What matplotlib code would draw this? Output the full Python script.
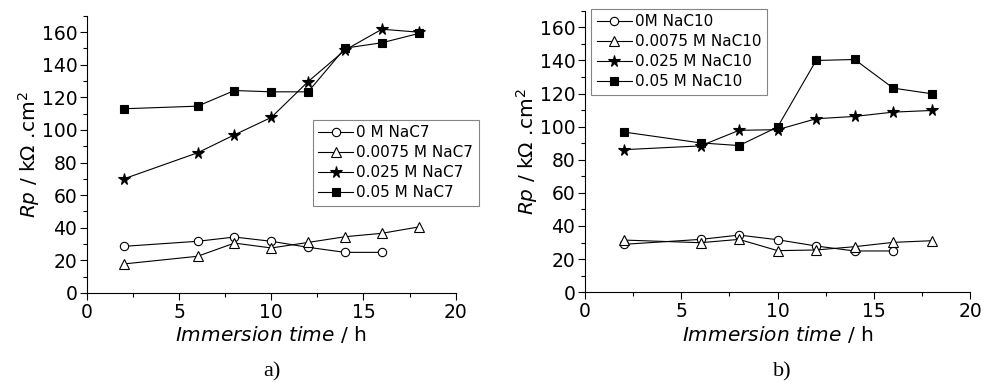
import matplotlib
matplotlib.use('Agg')
import matplotlib.pyplot as plt
from matplotlib.ticker import MultipleLocator

plt.rcParams['font.family'] = ['DejaVu Sans']
plt.rcParams['mathtext.fontset'] = 'dejavusans'

# time points (h)
t = [2, 6, 8, 10, 12, 14, 16, 18]

# a) NaC7
a_0 = [28.6, 31.7, 34.3, 31.7, 28.0, 24.9, 24.9]
a_0075 = [17.8, 22.5, 30.6, 27.6, 31.0, 34.5, 36.6, 40.5]
a_025 = [70.0, 86.0, 97.0, 107.7, 129.7, 149.0, 161.8, 160.0]
a_05 = [113.0, 114.6, 124.2, 123.4, 123.4, 150.2, 153.5, 159.2]
labels_a = ['0 M NaC7', '0.0075 M NaC7', '0.025 M NaC7', '0.05 M NaC7']

# b) NaC10
b_0 = [28.9, 31.9, 34.5, 31.7, 27.9, 24.9, 24.9]
b_0075 = [31.5, 29.9, 31.9, 25.1, 25.5, 27.5, 30.1, 31.1]
b_025 = [86.1, 88.4, 97.8, 98.2, 104.8, 106.2, 108.8, 109.8]
b_05 = [96.8, 90.2, 88.6, 99.8, 140.0, 140.6, 123.3, 119.9]
labels_b = ['0M NaC10', '0.0075 M NaC10', '0.025 M NaC10', '0.05 M NaC10']

fig = plt.figure(figsize=(9.84, 3.87), dpi=100)
ax1 = fig.add_axes([0.0884, 0.243, 0.3746, 0.716])
ax2 = fig.add_axes([0.5945, 0.245, 0.3915, 0.727])

styles = [dict(marker='o', mfc='white', ms=6),
          dict(marker='^', mfc='white', ms=7),
          dict(marker='*', mfc='black', ms=8.5),
          dict(marker='s', mfc='black', ms=6)]


def draw(ax, series, labels, legend_anchor):
    for ys, lab, st in zip(series, labels, styles):
        ax.plot(t[:len(ys)], ys, color='black', lw=0.8, mec='black', mew=0.8,
                label=lab, **st)
    ax.set_xlim(0, 20)
    ax.set_ylim(0, 170)
    ax.xaxis.set_major_locator(MultipleLocator(5))
    ax.xaxis.set_minor_locator(MultipleLocator(2.5))
    ax.yaxis.set_major_locator(MultipleLocator(20))
    ax.yaxis.set_minor_locator(MultipleLocator(10))
    ax.spines['top'].set_visible(False)
    ax.spines['right'].set_visible(False)
    ax.tick_params(which='major', direction='out', length=5, width=0.8,
                   labelsize=13.5, pad=2)
    ax.tick_params(which='minor', direction='out', length=3, width=0.8)
    ax.set_xlabel(r'$\mathit{Immersion\ time}$ / h', fontsize=14.5, labelpad=2)
    ax.set_ylabel(r'$\mathit{Rp}$ / k$\Omega$ .cm$^2$', fontsize=14.5, labelpad=0)
    leg = ax.legend(loc='upper left', bbox_to_anchor=legend_anchor,
                    bbox_transform=fig.transFigure, fontsize=11,
                    frameon=True, fancybox=False, edgecolor='#666666',
                    handlelength=2.3, handletextpad=0.2, labelspacing=0.33,
                    borderpad=0.35, borderaxespad=0)
    leg.get_frame().set_linewidth(0.8)


draw(ax1, [a_0, a_0075, a_025, a_05], labels_a, (0.318, 0.690))
draw(ax2, [b_0, b_0075, b_025, b_05], labels_b, (0.601, 0.977))

fig.text(0.276, 0.038, 'a)', family='Liberation Serif', fontsize=16, ha='center', va='center')
fig.text(0.795, 0.038, 'b)', family='Liberation Serif', fontsize=16, ha='center', va='center')

fig.savefig('out.png', dpi=100)
